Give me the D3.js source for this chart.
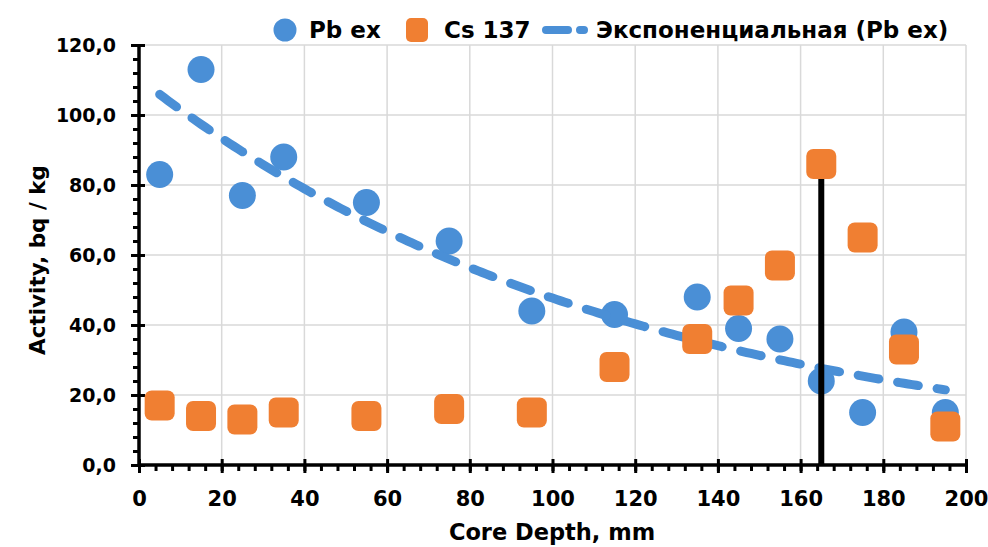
<!DOCTYPE html>
<html>
<head>
<meta charset="utf-8">
<script src="https://cdn.jsdelivr.net/npm/d3@7"></script>
<style>
  body { margin: 0; background: #fff; }
  text { font-family: "DejaVu Sans", sans-serif; font-weight: bold; }
</style>
</head>
<body>
<div class="container"></div>
<script>
const WIDTH = 988;
const HEIGHT = 547;

// data
var depths = [5, 15, 25, 35, 55, 75, 95, 115, 135, 145, 155, 165, 175, 185, 195];
var pbEx = [83, 113, 77, 88, 75, 64, 44, 43, 48, 39, 36, 24, 15, 38, 15];
var cs137 = [17, 14, 13, 15, 14, 16, 15, 28, 36, 47, 57, 86, 65, 33, 11];
var xTicks = [0, 20, 40, 60, 80, 100, 120, 140, 160, 180, 200];
var yTicks = [0, 20, 40, 60, 80, 100, 120];
var markerDepth = 165;
var markerTop = 86;

var BLUE = "#4a8fd6";
var ORANGE = "#f07f32";

var svg = d3.select(".container")
    .append("svg")
    .attr("width", WIDTH)
    .attr("height", HEIGHT);

var xScale = d3.scaleLinear().domain([0, 200]).range([139, 966]);
var yScale = d3.scaleLinear().domain([0, 120]).range([465, 45]);

// grid
svg.append("g")
    .selectAll("line.vg")
    .data(xTicks.slice(1))
    .join("line")
    .attr("x1", d => xScale(d)).attr("x2", d => xScale(d))
    .attr("y1", yScale(0)).attr("y2", yScale(120))
    .attr("stroke", "#d9d9d9").attr("stroke-width", 1.5);
svg.append("g")
    .selectAll("line.hg")
    .data(yTicks.slice(1))
    .join("line")
    .attr("x1", xScale(0)).attr("x2", xScale(200))
    .attr("y1", d => yScale(d)).attr("y2", d => yScale(d))
    .attr("stroke", "#d9d9d9").attr("stroke-width", 1.5);

var fmt = d => d.toFixed(1).replace(".", ",");

// minor ticks
svg.append("g")
    .attr("transform", "translate(" + xScale(0) + ",0)")
    .call(d3.axisLeft(yScale).tickValues(d3.range(0, 121, 4)).tickSize(6).tickFormat(""))
    .call(g => g.select(".domain").remove())
    .call(g => g.selectAll(".tick line").attr("stroke-width", 3));
svg.append("g")
    .attr("transform", "translate(0," + yScale(0) + ")")
    .call(d3.axisBottom(xScale).tickValues(d3.range(0, 201, 4)).tickSize(6).tickFormat(""))
    .call(g => g.select(".domain").remove())
    .call(g => g.selectAll(".tick line").attr("stroke-width", 3));

// major axes
svg.append("g")
    .attr("transform", "translate(" + xScale(0) + ",0)")
    .call(d3.axisLeft(yScale).tickValues(yTicks).tickSize(8).tickPadding(15).tickFormat(fmt))
    .call(g => g.select(".domain").attr("stroke-width", 3.5).attr("d", "M0," + yScale(120) + "V" + yScale(0)))
    .call(g => g.selectAll(".tick line").attr("x1", 6).attr("stroke-width", 3))
    .call(g => g.selectAll("text").attr("font-size", 19).attr("fill", "#000"));
svg.append("g")
    .attr("transform", "translate(0," + yScale(0) + ")")
    .call(d3.axisBottom(xScale).tickValues(xTicks).tickSize(8).tickPadding(18).tickFormat(d3.format("d")))
    .call(g => g.select(".domain").attr("stroke-width", 3.5).attr("d", "M" + xScale(0) + ",0H" + xScale(200)))
    .call(g => g.selectAll(".tick line").attr("y1", -6).attr("stroke-width", 3))
    .call(g => g.selectAll("text").attr("font-size", 21).attr("fill", "#000"));

// axis titles
svg.append("text")
    .attr("transform", "translate(45,260) rotate(-90)")
    .attr("text-anchor", "middle")
    .attr("font-size", 21.5)
    .text("Activity, bq / kg");
svg.append("text")
    .attr("x", 552).attr("y", 540)
    .attr("text-anchor", "middle")
    .attr("font-size", 22.5)
    .text("Core Depth, mm");

// Pb ex points
svg.append("g")
    .selectAll("circle")
    .data(depths)
    .join("circle")
    .attr("cx", d => xScale(d))
    .attr("cy", (d, i) => yScale(pbEx[i]))
    .attr("r", 13.5)
    .attr("fill", BLUE);

// exponential trend of Pb ex (least squares on ln y)
var lnY = pbEx.map(Math.log);
var mx = d3.mean(depths), ml = d3.mean(lnY);
var b = d3.sum(depths, (d, i) => (d - mx) * (lnY[i] - ml)) / d3.sum(depths, d => (d - mx) * (d - mx));
var a = Math.exp(ml - b * mx);
var trend = d3.range(5, 195.1, 1);

var line = d3.line()
    .x(d => xScale(d))
    .y(d => yScale(a * Math.exp(b * d)));

svg.append("path")
    .attr("d", line(trend))
    .attr("fill", "none")
    .attr("stroke", BLUE)
    .attr("stroke-width", 9)
    .attr("stroke-linecap", "round")
    .attr("stroke-dasharray", "21,19");

// vertical marker
svg.append("line")
    .attr("x1", xScale(markerDepth)).attr("x2", xScale(markerDepth))
    .attr("y1", yScale(0)).attr("y2", yScale(markerTop))
    .attr("stroke", "#000").attr("stroke-width", 6);

// Cs 137 points
svg.append("g")
    .selectAll("rect")
    .data(depths)
    .join("rect")
    .attr("x", d => xScale(d) - 15)
    .attr("y", (d, i) => yScale(cs137[i]) - 15)
    .attr("width", 30).attr("height", 30)
    .attr("rx", 7)
    .attr("fill", ORANGE);

// legend
var legend = svg.append("g").attr("transform", "translate(0,30)");
legend.append("circle").attr("cx", 285).attr("cy", 0).attr("r", 11.5).attr("fill", BLUE);
legend.append("text").attr("x", 309).attr("y", 8).attr("font-size", 23).text("Pb ex");
legend.append("rect").attr("x", 406).attr("y", -12).attr("width", 22).attr("height", 24).attr("rx", 5).attr("fill", ORANGE);
legend.append("text").attr("x", 444).attr("y", 8).attr("font-size", 23).text("Cs 137");
legend.append("line").attr("x1", 546).attr("x2", 584).attr("y1", 0).attr("y2", 0)
    .attr("stroke", BLUE).attr("stroke-width", 8).attr("stroke-linecap", "round").attr("stroke-dasharray", "22,12");
legend.append("text").attr("x", 596).attr("y", 8).attr("font-size", 23).text("Экспоненциальная (Pb ex)");
</script>
</body>
</html>
